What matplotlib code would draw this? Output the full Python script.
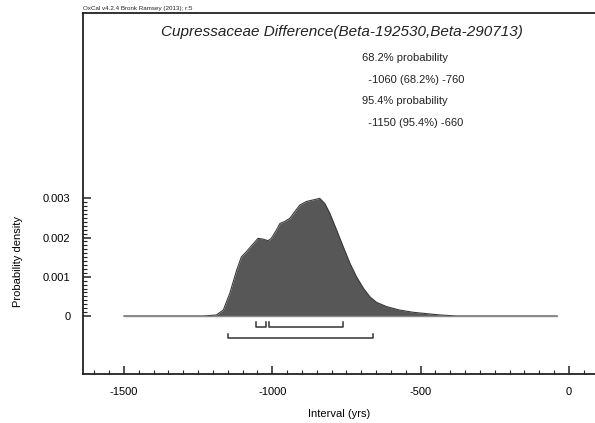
import matplotlib
matplotlib.use("Agg")
from matplotlib import pyplot as plt
from matplotlib.ticker import FixedLocator, MultipleLocator
import numpy as np

plt.rcParams['font.family'] = ['Liberation Sans', 'DejaVu Sans']
plt.rcParams['axes.unicode_minus'] = False

# density curve (interval in years, probability density)
years = [-1500, -1230, -1188, -1165, -1143, -1120, -1104, -1087, -1070, -1048,
         -1031, -1014, -1003, -986, -974, -958, -941, -924, -907, -885,
         -862, -840, -823, -806, -783, -761, -738, -716, -693, -671,
         -649, -615, -570, -525, -435, -380, -40]
density = [0, 0, 0.000026, 0.000153, 0.00058, 0.00117, 0.00151, 0.00164, 0.00179, 0.00198,
           0.00196, 0.00192, 0.00198, 0.00219, 0.00236, 0.00241, 0.00249, 0.00266, 0.00283, 0.00292,
           0.00296, 0.00300, 0.00287, 0.00262, 0.00219, 0.00177, 0.00134, 0.00100, 0.00071, 0.00049,
           0.00035, 0.00024, 0.00015, 0.000094, 0.000026, 0, 0]

# highest posterior density ranges
range_68 = [(-1055, -1020), (-1010, -760)]
range_95 = [(-1150, -660)]

title = "Cupressaceae Difference(Beta-192530,Beta-290713)"
summary = ["68.2% probability", "  -1060 (68.2%) -760",
           "95.4% probability", "  -1150 (95.4%) -660"]

fig = plt.figure(figsize=(5.95, 4.23), dpi=100)
ax = fig.add_axes([83 / 595, 1 - 374 / 423, 1 - 83 / 595, (374 - 13.3) / 423])

ax.fill_between(years, density, color='#575757', lw=0)
ax.plot(years, density, color='#3a3a3a', lw=0.8)
ax.plot([-1500, -40], [0, 0], color='#8a8a8a', lw=1.0)

# bracket bars under the curve
cap = 0.00012
for lo, hi in range_68:
    y = -0.00027
    ax.plot([lo, lo, hi, hi], [y + cap, y, y, y + cap], color='#333333', lw=1.1)
for lo, hi in range_95:
    y = -0.00057
    ax.plot([lo, lo, hi, hi], [y + cap, y, y, y + cap], color='#333333', lw=1.1)

ax.set_xlim(-1638, 88)
ax.set_ylim(-0.00148, 0.00772)

ax.spines['right'].set_visible(False)
for s in ['left', 'bottom', 'top']:
    ax.spines[s].set_linewidth(1.3)
    ax.spines[s].set_color('#222222')

ax.xaxis.set_major_locator(FixedLocator([-1500, -1000, -500, 0]))
ax.xaxis.set_minor_locator(MultipleLocator(50))
ax.yaxis.set_major_locator(FixedLocator([0, 0.001, 0.002, 0.003]))
ax.yaxis.set_minor_locator(FixedLocator(np.arange(0, 0.00301, 0.0001)))
ax.set_yticklabels(['0', '0.001', '0.002', '0.003'])
ax.tick_params(which='both', direction='in', labelsize=8, color='#222222')
ax.tick_params(which='major', length=6, width=1.1, pad=9)
ax.tick_params(which='minor', length=3, width=0.8)

ax.set_xlabel('Interval (yrs)', fontsize=8, labelpad=9)
ax.set_ylabel('Probability density', fontsize=8)
ax.yaxis.set_label_coords(-0.117, 0.313)

fig.text(342 / 595, 1 - 32 / 423, title, fontsize=11,
         style='italic', color='#222222', ha='center', va='center')
for i, line in enumerate(summary):
    fig.text(362 / 595, 1 - (58 + i * 21.7) / 423, line, fontsize=8,
             color='#222222', va='center', ha='left')
fig.text(83 / 595, 1 - 8.5 / 423, 'OxCal v4.2.4 Bronk Ramsey (2013); r:5',
         fontsize=4.5, color='#222222', va='center', ha='left')

fig.savefig('out.png', dpi=100)
